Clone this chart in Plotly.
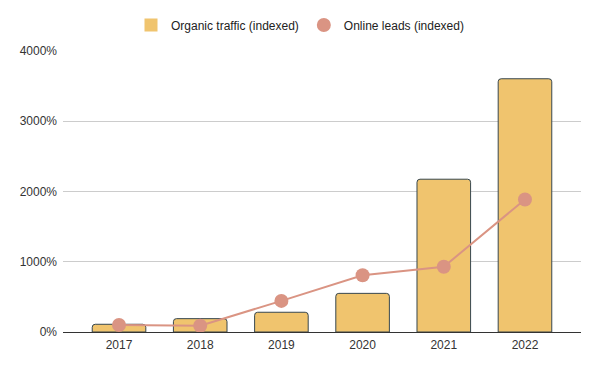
import plotly.graph_objects as go

years = ["2017", "2018", "2019", "2020", "2021", "2022"]
organic_traffic = [110, 190, 281, 550, 2175, 3605]
online_leads = [100, 90, 443, 808, 929, 1886]
y_ticks = [0, 1000, 2000, 3000, 4000]
y_tick_labels = ["0%", "1000%", "2000%", "3000%", "4000%"]

BAR_COLOR = "#F0C46E"
LINE_COLOR = "#DA9483"

# the page body adds an 8px offset; margins compensate for it
OFF = 8

fig = go.Figure()
fig.add_trace(go.Bar(
    x=years, y=organic_traffic, name="Organic traffic (indexed)", showlegend=False,
    marker=dict(color=BAR_COLOR, line=dict(color="#37474F", width=1), cornerradius=3),
    width=0.66,
))
fig.add_trace(go.Scatter(
    x=years, y=online_leads, name="Online leads (indexed)", mode="lines+markers",
    showlegend=False,
    line=dict(color=LINE_COLOR, width=2),
    marker=dict(color=LINE_COLOR, size=14),
))
# legend-only entries (square and circle swatches as in the reference)
fig.add_trace(go.Scatter(
    x=[None], y=[None], mode="markers", name="Organic traffic (indexed)",
    marker=dict(color=BAR_COLOR, size=13, symbol="square"),
))
fig.add_trace(go.Scatter(
    x=[None], y=[None], mode="markers", name="Online leads (indexed)",
    marker=dict(color=LINE_COLOR, size=14, symbol="circle"),
))

fig.update_layout(
    width=600, height=371,
    margin=dict(l=63 - OFF, r=19 + OFF, t=51 - OFF, b=39 + OFF, autoexpand=False),
    paper_bgcolor="white", plot_bgcolor="white",
    font=dict(family="Liberation Sans, Arial, sans-serif", size=12, color="#333333"),
    showlegend=True,
    legend=dict(orientation="h", x=(300 - OFF) / 600, xanchor="center", xref="container",
                y=1 - (25 - OFF) / 371, yanchor="middle", yref="container",
                font=dict(size=12, color="#222222"), traceorder="normal",
                itemwidth=30),
    xaxis=dict(type="category", range=[-0.69, 5.69], showgrid=False,
               showline=True, linecolor="#333333", linewidth=1, ticks="",
               tickfont=dict(size=12, color="#333333"), ticklabelstandoff=2),
    yaxis=dict(range=[0, 4000], tickvals=y_ticks, ticktext=y_tick_labels,
               showgrid=True, gridcolor="#CCCCCC", gridwidth=1, zeroline=False,
               ticks="", tickfont=dict(size=12, color="#333333"),
               ticklabelstandoff=5),
)

fig.write_html("out.html")
